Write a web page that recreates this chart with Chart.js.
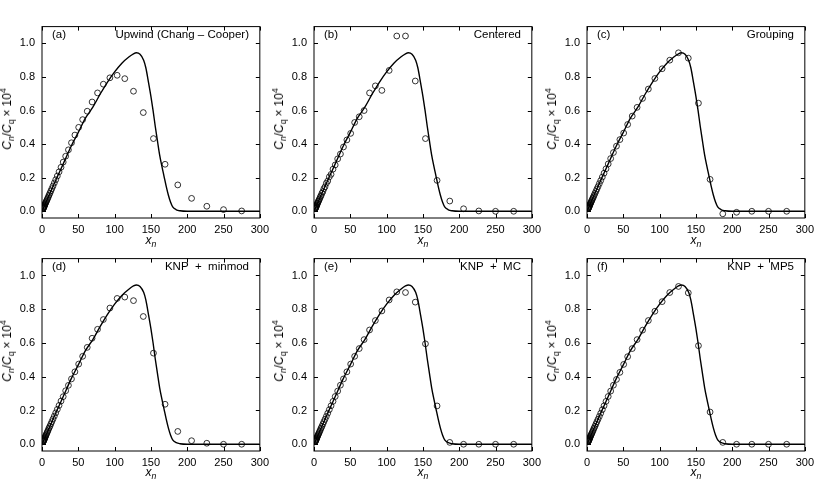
<!DOCTYPE html>
<html>
<head>
<meta charset="utf-8">
<script src="https://cdn.jsdelivr.net/npm/chart.js"></script>
<style>
  body { margin: 0; background: #fff; }
  #fig { position: relative; width: 830px; height: 485px; overflow: hidden; background: #fff;
         font-family: "Liberation Sans", Arial, sans-serif; color: #000; }
  #fig canvas { position: absolute; }
  .lbl { position: absolute; font-size: 11.5px; line-height: 13px; white-space: nowrap; }
  .ytitle, .xtitle { position: absolute; font-size: 12px; white-space: nowrap; }
  .ytitle { transform: translate(-50%, -50%) rotate(-90deg); }
  .xtitle { transform: translate(-50%, -50%); }
  .op { margin: 0 3px; }
  sub, sup { font-size: 72%; line-height: 0; }
</style>
</head>
<body>
<div id="fig"></div>
<script>
// x_n of the discrete points (same grid in every panel)
const pointX = [275, 250, 227, 206, 187, 169.5, 153.5, 139.5, 126, 114,
  103.5, 93.5, 84.5, 76.5, 69, 62.3, 56, 50.5, 45.3, 40.6,
  36.4, 32.6, 29.2, 26.2, 23.5, 21.1, 18.9, 17, 15.2, 13.6,
  12.2, 10.9, 9.8, 8.8, 7.9, 7.1, 6.4, 5.7, 5.1, 4.6,
  4.1, 3.7, 3.3, 3, 2.7, 2.4, 2.2, 2, 1.8, 1.6];

// scheme results, C_n / C_q x 1e4
const upwindY = [0.002, 0.01, 0.03, 0.077, 0.157, 0.28, 0.433, 0.588, 0.715, 0.79,
  0.81, 0.795, 0.757, 0.705, 0.651, 0.596, 0.546, 0.5, 0.454, 0.408,
  0.366, 0.328, 0.293, 0.262, 0.235, 0.21, 0.188, 0.169, 0.151, 0.135,
  0.121, 0.108, 0.097, 0.087, 0.078, 0.07, 0.063, 0.057, 0.051, 0.046,
  0.041, 0.037, 0.033, 0.03, 0.027, 0.024, 0.022, 0.02, 0.018, 0.016];
const centeredY = [0, 0, 0.002, 0.015, 0.061, 0.184, 0.433, 0.776, 1.044, 1.044,
  0.839, 0.72, 0.747, 0.705, 0.6, 0.563, 0.529, 0.464, 0.425, 0.383,
  0.341, 0.312, 0.276, 0.251, 0.22, 0.205, 0.18, 0.167, 0.146, 0.134,
  0.117, 0.107, 0.094, 0.087, 0.076, 0.07, 0.061, 0.057, 0.049, 0.046,
  0.039, 0.037, 0.031, 0.03, 0.025, 0.024, 0.02, 0.02, 0.017, 0.016];
const groupingY = [0, 0, 0, -0.006, -0.015, 0.19, 0.644, 0.912, 0.944, 0.9,
  0.849, 0.791, 0.728, 0.672, 0.619, 0.567, 0.517, 0.466, 0.427, 0.388,
  0.35, 0.314, 0.282, 0.253, 0.227, 0.204, 0.183, 0.165, 0.147, 0.132,
  0.118, 0.106, 0.095, 0.085, 0.077, 0.069, 0.062, 0.055, 0.05, 0.045,
  0.04, 0.036, 0.032, 0.029, 0.026, 0.023, 0.021, 0.019, 0.018, 0.016];
const minmodY = [0, 0, 0.006, 0.021, 0.076, 0.237, 0.54, 0.757, 0.851, 0.872,
  0.864, 0.807, 0.739, 0.681, 0.628, 0.574, 0.521, 0.475, 0.429, 0.387,
  0.349, 0.317, 0.282, 0.256, 0.23, 0.207, 0.186, 0.167, 0.15, 0.134,
  0.12, 0.107, 0.097, 0.087, 0.078, 0.07, 0.063, 0.056, 0.05, 0.045,
  0.04, 0.036, 0.032, 0.029, 0.026, 0.023, 0.021, 0.019, 0.018, 0.016];
const mcY = [0, 0, 0, 0, 0.011, 0.227, 0.595, 0.842, 0.899, 0.903,
  0.855, 0.79, 0.733, 0.677, 0.62, 0.567, 0.521, 0.475, 0.429, 0.387,
  0.35, 0.315, 0.283, 0.254, 0.228, 0.205, 0.184, 0.165, 0.148, 0.133,
  0.119, 0.106, 0.096, 0.086, 0.077, 0.069, 0.062, 0.056, 0.05, 0.045,
  0.04, 0.036, 0.032, 0.029, 0.026, 0.023, 0.021, 0.019, 0.018, 0.016];
const mp5Y = [0, 0, 0, 0, 0.011, 0.191, 0.584, 0.897, 0.935, 0.899,
  0.845, 0.788, 0.733, 0.676, 0.62, 0.567, 0.519, 0.473, 0.426, 0.384,
  0.35, 0.315, 0.283, 0.254, 0.228, 0.205, 0.184, 0.165, 0.148, 0.133,
  0.119, 0.106, 0.096, 0.086, 0.077, 0.069, 0.062, 0.056, 0.05, 0.045,
  0.04, 0.036, 0.032, 0.029, 0.026, 0.023, 0.021, 0.019, 0.018, 0.016];

// reference solution (solid line)
const exactX = [0, 10, 20, 30, 40, 50, 60, 70, 80, 90, 100, 110, 120, 126, 130, 135,
  140, 143, 147, 150, 153, 156, 159, 162, 165, 168, 171, 174, 177, 180, 185, 190, 200, 300];
const exactY = [0, 0.098, 0.195, 0.29, 0.386, 0.47, 0.556, 0.62, 0.697, 0.768, 0.83, 0.882, 0.92, 0.938, 0.944, 0.935,
  0.9, 0.855, 0.76, 0.685, 0.6, 0.505, 0.42, 0.336, 0.27, 0.21, 0.15, 0.097, 0.055, 0.026, 0.009, 0.003, 0, 0];

const panelTags = ['(a)', '(b)', '(c)', '(d)', '(e)', '(f)'];
const panelNames = ['Upwind (Chang \u2013 Cooper)', 'Centered', 'Grouping',
  'KNP\u00a0 +\u00a0 minmod', 'KNP\u00a0 +\u00a0 MC', 'KNP\u00a0 +\u00a0 MP5'];
const panelSeries = [upwindY, centeredY, groupingY, minmodY, mcY, mp5Y];

const xTicks = [0, 50, 100, 150, 200, 250, 300];
const yTicks = [0, 0.2, 0.4, 0.6, 0.8, 1.0];

// layout
const plotLeft = [42, 314, 587];
const plotTop = [19, 251];
const plotW = 218;
const plotH = [199, 200];
const xTitleY = [240, 472];
const AXIS_W = 42, AXIS_H = 22, PAD_T = 6, PAD_R = 14;
const FONT = '"Liberation Sans", Arial, sans-serif';

// frame + inward ticks on all four sides
const frameTicks = {
  id: 'frameTicks',
  afterDraw(chart) {
    const { ctx, chartArea: a, scales: { x, y } } = chart;
    ctx.save();
    ctx.strokeStyle = '#000';
    ctx.lineWidth = 1;
    ctx.strokeRect(a.left, a.top, a.right - a.left, a.bottom - a.top);
    ctx.beginPath();
    x.ticks.forEach(t => {
      const px = Math.round(x.getPixelForValue(t.value)) + 0.5;
      ctx.moveTo(px, a.bottom); ctx.lineTo(px, a.bottom - 4);
      ctx.moveTo(px, a.top); ctx.lineTo(px, a.top + 4);
    });
    y.ticks.forEach(t => {
      const py = Math.round(y.getPixelForValue(t.value)) + 0.5;
      ctx.moveTo(a.left, py); ctx.lineTo(a.left + 4, py);
      ctx.moveTo(a.right, py); ctx.lineTo(a.right - 4, py);
    });
    ctx.stroke();
    ctx.restore();
  }
};

const fig = document.getElementById('fig');

function addDiv(cls, html, css) {
  const d = document.createElement('div');
  d.className = cls;
  d.innerHTML = html;
  d.style.cssText = css;
  fig.appendChild(d);
}

function makePanel(i) {
  const col = i % 3, row = Math.floor(i / 3);
  const left = plotLeft[col], top = plotTop[row], ph = plotH[row];
  const w = AXIS_W + plotW + PAD_R, h = PAD_T + ph + AXIS_H;

  const cv = document.createElement('canvas');
  cv.width = w; cv.height = h;
  cv.style.left = (left - AXIS_W) + 'px';
  cv.style.top = (top - PAD_T) + 'px';
  fig.appendChild(cv);

  const ys = panelSeries[i];
  new Chart(cv.getContext('2d'), {
    type: 'scatter',
    data: {
      datasets: [{
        data: pointX.map((x, k) => ({ x, y: ys[k] })),
        showLine: false,
        pointStyle: 'circle',
        pointRadius: 2.9,
        pointBorderWidth: 0.8,
        pointBorderColor: '#000',
        pointBackgroundColor: 'rgba(0,0,0,0)'
      }, {
        data: exactX.map((x, k) => ({ x, y: exactY[k] })),
        showLine: true,
        pointRadius: 0,
        borderColor: '#000',
        borderWidth: 1.4,
        cubicInterpolationMode: 'monotone'
      }]
    },
    options: {
      responsive: false,
      animation: false,
      layout: { padding: { top: PAD_T, right: PAD_R, left: 0, bottom: 0 } },
      plugins: { legend: { display: false }, tooltip: { enabled: false } },
      scales: {
        x: {
          type: 'linear', min: 0, max: 300,
          afterBuildTicks: s => { s.ticks = xTicks.map(v => ({ value: v })); },
          afterFit: s => { s.height = AXIS_H; },
          grid: { display: false, drawTicks: false },
          border: { display: false },
          ticks: { color: '#000', font: { family: FONT, size: 11 }, padding: 5,
                   maxRotation: 0, autoSkip: false, callback: v => String(v) }
        },
        y: {
          type: 'linear', min: -0.04, max: 1.1,
          afterBuildTicks: s => { s.ticks = yTicks.map(v => ({ value: v })); },
          afterFit: s => { s.width = AXIS_W; },
          grid: { display: false, drawTicks: false },
          border: { display: false },
          ticks: { color: '#000', font: { family: FONT, size: 11 }, padding: 7,
                   callback: v => v.toFixed(1) }
        }
      }
    },
    plugins: [frameTicks]
  });

  addDiv('lbl', panelTags[i], `left:${left + 10}px;top:${top + 9}px;`);
  addDiv('lbl', panelNames[i], `left:${left}px;top:${top + 9}px;width:${plotW - 11}px;text-align:right;`);
  addDiv('ytitle', '<i>C</i><sub><i>n</i></sub>/<i>C</i><sub>q</sub><span class="op">\u00d7</span>10<sup>4</sup>',
    `left:${left - 35}px;top:${top + ph / 2}px;`);
  addDiv('xtitle', '<i>x</i><sub><i>n</i></sub>', `left:${left + plotW / 2}px;top:${xTitleY[row]}px;`);
}

for (let i = 0; i < 6; i++) makePanel(i);
</script>
</body>
</html>
